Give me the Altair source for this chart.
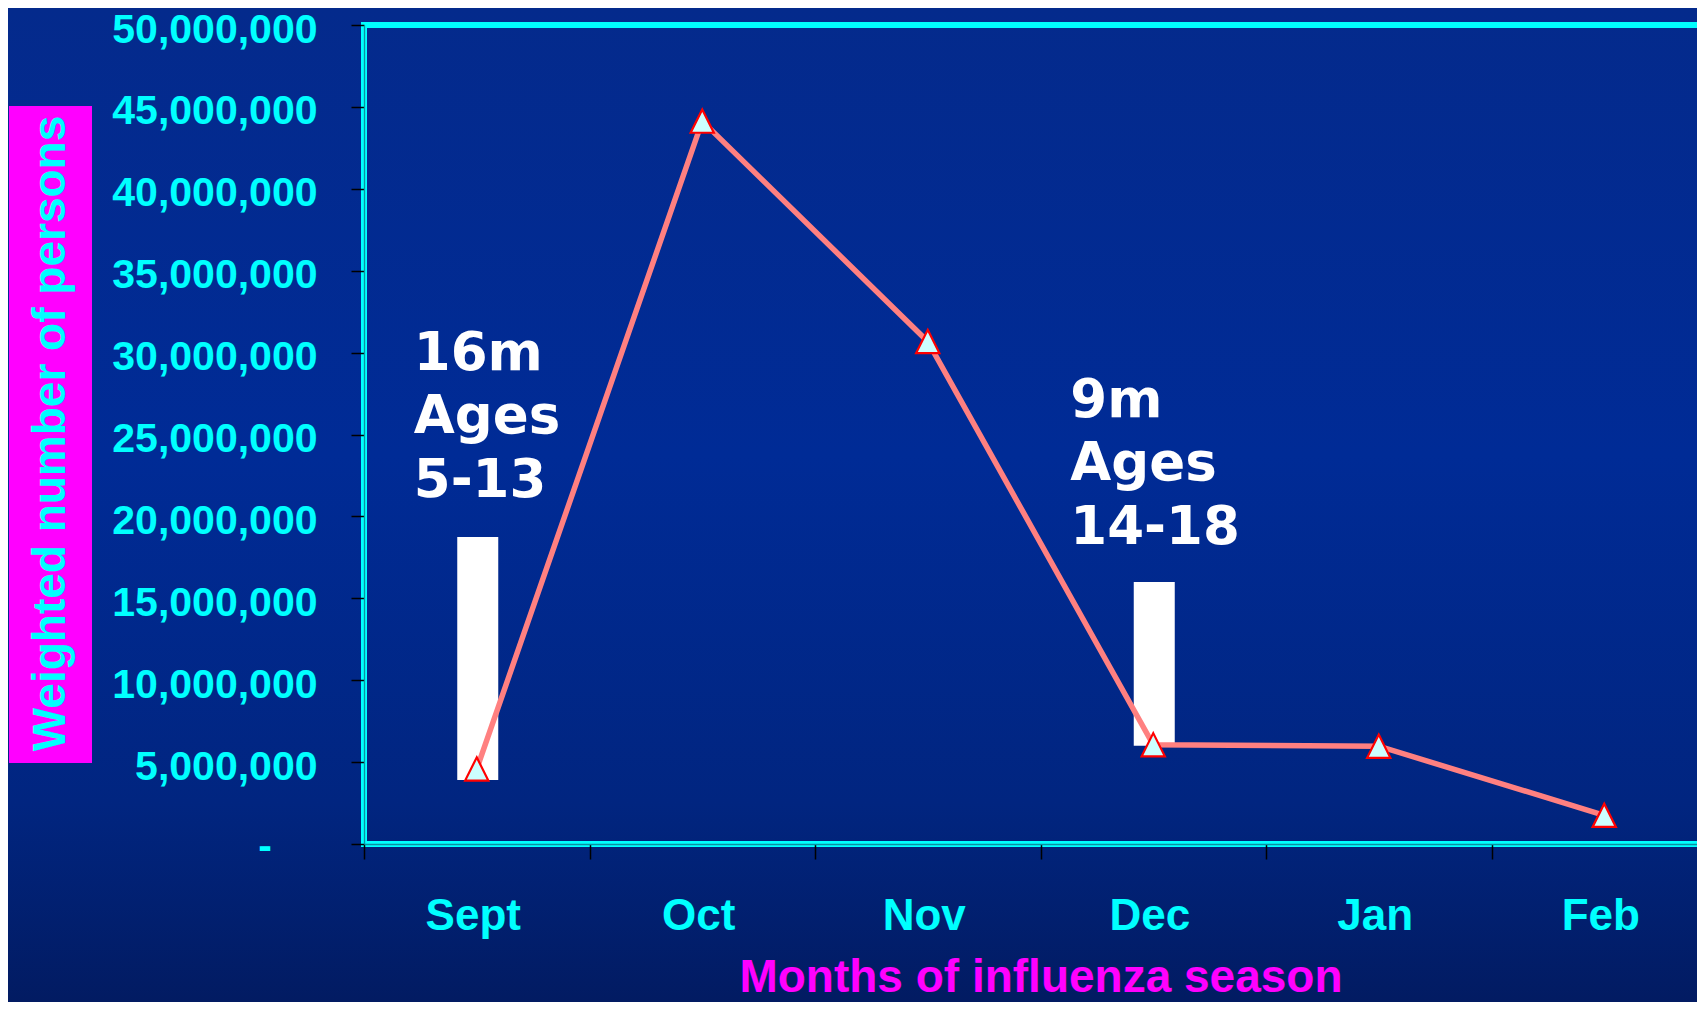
import altair as alt
import pandas as pd

# ---- data ----
months = ["Sept", "Oct", "Nov", "Dec", "Jan", "Feb"]
persons = [4580000, 44130000, 30680000, 6060000, 5970000, 1750000]

bar_months = ["Sept", "Dec"]
bar_low = [3900000, 6000000]
bar_high = [18750000, 16000000]
bar_labels = ["16m\nAges\n5-13", "9m\nAges\n14-18"]

y_ticks = [0, 5000000, 10000000, 15000000, 20000000, 25000000,
           30000000, 35000000, 40000000, 45000000, 50000000]
zero_label = ["-"]

y_title = "Weighted number of persons"
x_title = "Months of influenza season"

line_df = pd.DataFrame({"month": months, "persons": persons})
bar_df = pd.DataFrame({"month": bar_months, "low": bar_low,
                       "high": bar_high, "label": bar_labels})
zero_df = pd.DataFrame({"v": [0], "t": zero_label})
one = pd.DataFrame({"k": [0]})

# ---- layout / style ----
W, H = 1333, 819
BAND_RANGE = 1353
PAD = {"left": 356, "top": 17, "right": 0, "bottom": 158}
CYAN = "#00FFFF"
MAGENTA = "#FF00FF"

x_scale = alt.Scale(domain=months, range=[0, BAND_RANGE],
                    paddingInner=0, paddingOuter=0)
y_scale = alt.Scale(domain=[0, 50000000], nice=False, zero=True)

x_axis = alt.Axis(
    title=x_title, tickBand="extent", labelAngle=0, grid=False, zindex=1,
    domainColor="#0c8fa2", domainWidth=1.3,
    tickColor="black", tickSize=15, tickWidth=1.5,
    labelColor=CYAN, labelFont="Liberation Sans", labelFontWeight="bold",
    labelFontSize=44, labelPadding=35, labelOffset=-4,
    titleColor=MAGENTA, titleFont="Liberation Sans", titleFontWeight="bold",
    titleFontSize=46, titleX=BAND_RANGE / 2, titleY=147,
    titleAlign="center", titleBaseline="alphabetic",
)
y_axis = alt.Axis(
    title=y_title, values=y_ticks, grid=False, zindex=1, labelLimit=0,
    labelExpr="datum.value === 0 ? '' : format(datum.value, ',')",
    domainColor="#0c8fa2", domainWidth=1.3,
    tickColor="black", tickSize=13, tickWidth=1.5,
    labelColor=CYAN, labelFont="Liberation Sans", labelFontWeight="bold",
    labelFontSize=41, labelPadding=34, labelOffset=5,
    titleColor=CYAN, titleFont="Liberation Sans", titleFontWeight="bold",
    titleFontSize=46, titleAngle=270, titleX=-300, titleY=408,
    titleAlign="center", titleBaseline="alphabetic",
)

X = alt.X("month:N", scale=x_scale, axis=x_axis, sort=months)

# background gradient
bg = alt.Chart(one).mark_rect(
    color=alt.LinearGradient(
        gradient="linear", x1=0, x2=0, y1=0, y2=1,
        stops=[alt.GradientStop(offset=0, color="#042a8c"),
               alt.GradientStop(offset=0.45, color="#002b96"),
               alt.GradientStop(offset=0.8, color="#012580"),
               alt.GradientStop(offset=1, color="#021b62")])
).encode(x=alt.value(-PAD["left"]), x2=alt.value(W + 10),
         y=alt.value(-PAD["top"]), y2=alt.value(H + PAD["bottom"]))

# magenta box behind the y title
ybox = alt.Chart(one).mark_rect(color=MAGENTA).encode(
    x=alt.value(-355), x2=alt.value(-272), y=alt.value(81), y2=alt.value(738))

# cyan plot frame
frame_top = alt.Chart(one).mark_rule(color=CYAN, strokeWidth=6).encode(
    y=alt.value(0), x=alt.value(-3), x2=alt.value(W + 10))
frame_left = alt.Chart(one).mark_rule(color=CYAN, strokeWidth=6).encode(
    x=alt.value(0), y=alt.value(-3), y2=alt.value(H + 3))
frame_bottom = alt.Chart(one).mark_rule(color=CYAN, strokeWidth=6).encode(
    y=alt.value(H), x=alt.value(-3), x2=alt.value(W + 10))

# the "-" shown for zero on the value axis
zero_text = alt.Chart(zero_df).mark_text(
    align="right", baseline="middle", dy=3, font="Liberation Sans",
    fontWeight="bold", fontSize=41, color=CYAN
).encode(x=alt.value(-92), y=alt.Y("v:Q", scale=y_scale, axis=y_axis), text="t:N")

bars = alt.Chart(bar_df).mark_bar(color="white", width=41, xOffset=1).encode(
    x=X,
    y=alt.Y("low:Q", scale=y_scale, axis=y_axis),
    y2="high:Q",
)

line = alt.Chart(line_df).mark_line(color="#FF8080", strokeWidth=5.5).encode(
    x=X, y=alt.Y("persons:Q", scale=y_scale, axis=y_axis))

points = alt.Chart(line_df).mark_point(
    shape="M0,-1L1,1L-1,1Z", filled=True, fill="#CCFFFF", stroke="#FF0000",
    strokeWidth=2.2, size=540, opacity=1
).encode(x=X, y=alt.Y("persons:Q", scale=y_scale, axis=y_axis))

text_style = dict(align="left", baseline="alphabetic", lineBreak="\n",
                  lineHeight=63.5, font="DejaVu Sans", fontWeight="bold",
                  fontSize=53, color="white")

ann_sept = alt.Chart(bar_df).transform_filter(alt.datum.month == "Sept").mark_text(
    dx=-63, dy=-167, **text_style
).encode(x=X, y=alt.Y("high:Q", scale=y_scale, axis=y_axis), text="label:N")

ann_dec = alt.Chart(bar_df).transform_filter(alt.datum.month == "Dec").mark_text(
    dx=-83, dy=-165, **text_style
).encode(x=X, y=alt.Y("high:Q", scale=y_scale, axis=y_axis), text="label:N")

chart = alt.layer(
    bg, ybox, frame_top, frame_left, frame_bottom, zero_text,
    bars, line, points, ann_sept, ann_dec
).properties(
    width=W, height=H,
    autosize=alt.AutoSizeParams(type="none"),
    padding=PAD,
).configure_view(stroke="transparent").configure(background="#01267f")

chart.save("out.html", embed_options={"renderer": "svg", "actions": False})
